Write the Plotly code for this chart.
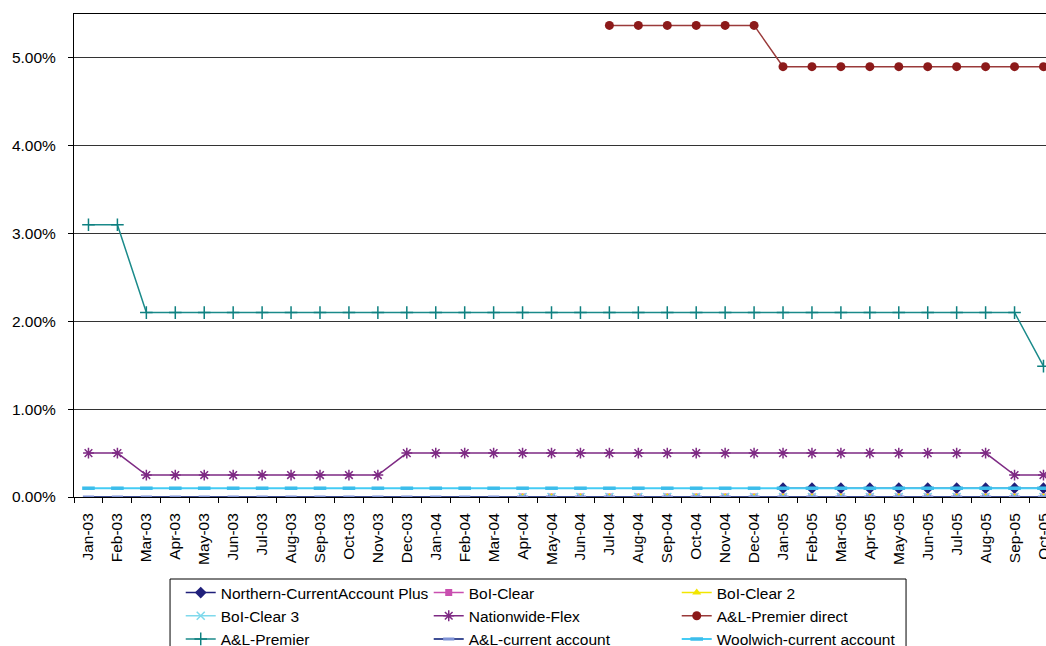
import plotly.graph_objects as go

# Monthly categories Jan-03 .. Oct-05
months = ["Jan", "Feb", "Mar", "Apr", "May", "Jun", "Jul", "Aug", "Sep", "Oct", "Nov", "Dec"]
categories = [f"{m}-{y:02d}" for y in (3, 4, 5) for m in months][:34]

# Interest rates (fractions); None = no rate for that month
northern_current_plus = [None] * 24 + [0.0010] * 10
boi_clear = [None] * 15 + [0.0] * 19
boi_clear_2 = [None] * 15 + [0.0] * 19
boi_clear_3 = [None] * 15 + [0.0] * 19
nationwide_flex = [0.0050] * 2 + [0.0025] * 9 + [0.0050] * 21 + [0.0025] * 2
al_premier_direct = [None] * 18 + [0.0537] * 6 + [0.0490] * 10
al_premier = [0.0310] * 2 + [0.0210] * 31 + [0.0149]
al_current = [0.0] * 34
woolwich_current = [0.0010] * 34

series = [
    ("Northern-CurrentAccount Plus", northern_current_plus, "#1F1F7A", "#1F1F7A", "diamond", 9, 1.5, 0),
    ("BoI-Clear", boi_clear, "#C94FB0", "#C94FB0", "square", 7, 1.5, 0),
    ("BoI-Clear 2", boi_clear_2, "#F2E600", "#F2E600", "triangle-up", 8, 1.5, 0),
    ("BoI-Clear 3", boi_clear_3, "#7FD9EC", "#7FD9EC", "x-thin-open", 8, 1.5, 1.5),
    ("Nationwide-Flex", nationwide_flex, "#7E2A84", "#7E2A84", "asterisk-open", 9, 1.5, 1.5),
    ("A&L-Premier direct", al_premier_direct, "#8C1A1A", "#9A3A3A", "circle", 9, 1.5, 0),
    ("A&L-Premier", al_premier, "#0E8080", "#1A8A8A", "cross-thin-open", 9, 1.5, 1.5),
    ("A&L-current account", al_current, "#7F93D6", "#3F4F95", "line-ew-open", 8, 2, 3),
    ("Woolwich-current account", woolwich_current, "#3CBDEB", "#44CCF5", "line-ew-open", 9, 2, 3.5),
]

fig = go.Figure()
for name, vals, mcolor, lcolor, symbol, msize, lwidth, mlw in series:
    marker = dict(symbol=symbol, size=msize, color=mcolor)
    if mlw:
        marker["line"] = dict(color=mcolor, width=mlw)
    fig.add_trace(go.Scatter(
        x=categories, y=vals, name=name, mode="lines+markers",
        line=dict(color=lcolor, width=lwidth), marker=marker,
        connectgaps=False,
    ))

font = dict(family="Liberation Sans, Arial, sans-serif", size=15.5, color="#000000")

# Frame around the legend block
fig.add_shape(
    type="rect", xref="paper", yref="paper",
    x0=0.0988, x1=0.856, y0=-0.1698, y1=-0.40,
    line=dict(color="#000000", width=1), fillcolor="rgba(0,0,0,0)",
    layer="above",
)

fig.update_layout(
    width=1046, height=646,
    margin=dict(l=74, r=0, t=14, b=149, autoexpand=False),
    paper_bgcolor="white", plot_bgcolor="white",
    font=font,
    showlegend=True,
    legend=dict(
        orientation="h", x=0.1098, xanchor="left", y=-0.1636, yanchor="top",
        borderwidth=0, bgcolor="rgba(0,0,0,0)",
        entrywidth=203, entrywidthmode="pixels", font=font,
        traceorder="normal",
    ),
    xaxis=dict(
        type="category", categoryorder="array", categoryarray=categories,
        range=[-0.5, 33.087], tickangle=-90, ticks="outside", ticklen=5,
        tickson="boundaries", tickcolor="#000000", showline=True,
        linecolor="#000000", linewidth=1, mirror=True, showgrid=False,
        ticklabelstandoff=9, tickfont=font,
    ),
    yaxis=dict(
        range=[0, 0.055], dtick=0.01, tick0=0, tickformat=".2%",
        ticks="outside", ticklen=5, tickcolor="#000000", showline=True,
        linecolor="#000000", linewidth=1, showgrid=True, gridcolor="#333333",
        gridwidth=1, zeroline=False, ticklabelstandoff=9, tickfont=font,
    ),
)

fig.write_html("out.html")
